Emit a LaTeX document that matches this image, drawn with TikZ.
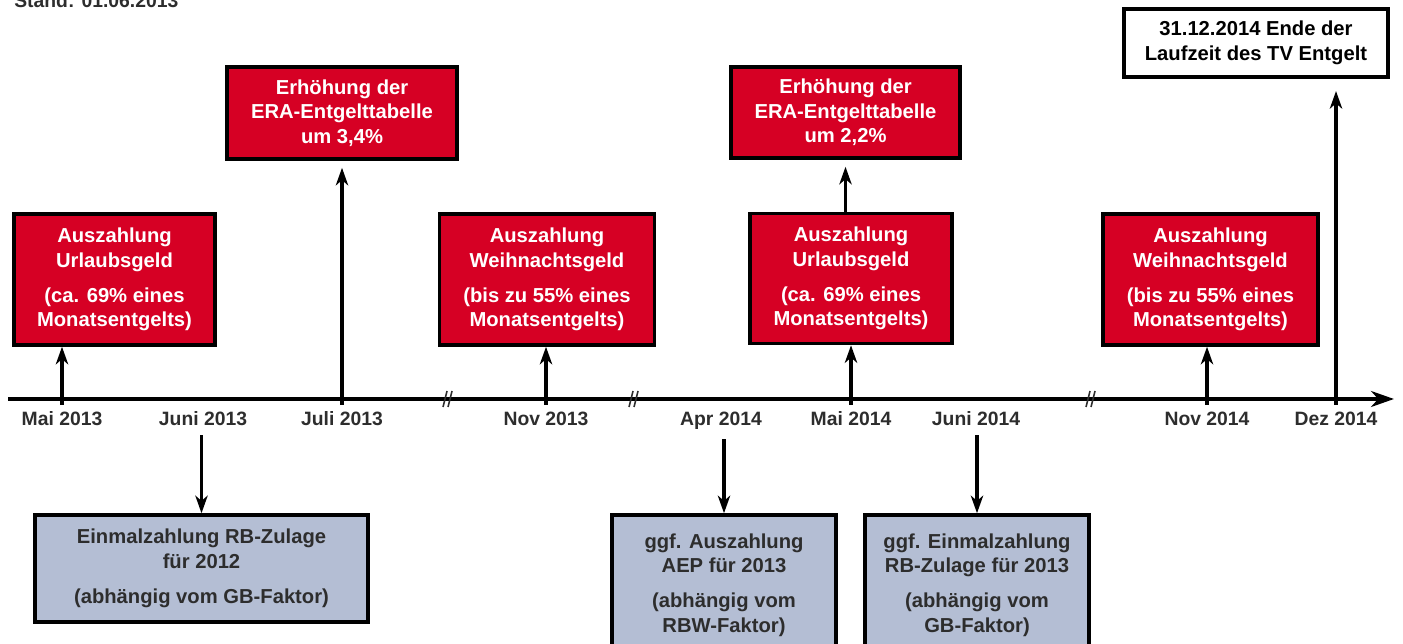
\documentclass[tikz,border=0pt]{standalone}
\usepackage{fontspec}
\setmainfont{Liberation Sans}
\usepackage{xcolor}
\usetikzlibrary{arrows, arrows.meta}

\definecolor{boxred}{RGB}{214,0,36}
\definecolor{boxblue}{RGB}{180,190,212}
\definecolor{textgray}{RGB}{45,45,45}

\tikzset{
  redbox/.style={draw=black, fill=boxred, line width=2pt, text=white,
    font=\bfseries\fontsize{11.5}{14}\selectfont, align=center, inner sep=0pt},
  bluebox/.style={draw=black, fill=boxblue, line width=2pt, text=textgray,
    font=\bfseries\fontsize{11.5}{14}\selectfont, align=center, inner sep=0pt},
  whitebox/.style={draw=black, fill=white, line width=2pt, text=black,
    font=\bfseries\fontsize{11.5}{14}\selectfont, align=center, inner sep=0pt},
  datum/.style={text=textgray, font=\bfseries\fontsize{11}{13}\selectfont, inner sep=0pt},
  pointer/.style={line width=2pt, arrows={-{Stealth[length=10pt, width=7pt, inset=3pt]}}},
}

\begin{document}
\begin{tikzpicture}[x=0.02cm, y=-0.02cm]
  \useasboundingbox (0,0) rectangle (1403,644);

  % Date stamp, cut at the top edge.
  \node[datum, anchor=base west] (stand) at (14,8) {Stand: 01.06.2013};

  % Time axis with breaks.
  \coordinate (axstart) at (8,399);
  \coordinate (axend) at (1394,399);
  \draw [line width=2.6pt, arrows={-{Stealth[length=13pt, width=9pt, inset=4pt]}}] (axstart) -- (axend);
  \foreach \x in {447, 633, 1090} {
    \draw [line width=0.9pt, textgray] (\x-4,407) -- (\x,391);
    \draw [line width=0.9pt, textgray] (\x+1,407) -- (\x+5,391);
  }

  % Months.
  \foreach \x/\n/\t in {62/mai13/Mai 2013, 203/jun13/Juni 2013, 342/jul13/Juli 2013,
      546/nov13/Nov 2013, 721/apr14/Apr 2014, 851/mai14/Mai 2014,
      976/jun14/Juni 2014, 1207/nov14/Nov 2014, 1336/dez14/Dez 2014} {
    \coordinate (t\n) at (\x,405);
    \node[datum, anchor=base] (l\n) at (\x,426) {\t};
  }

  % Events above the axis.
  \node[redbox, minimum width=201*0.02cm, minimum height=131*0.02cm] (urlaub13) at (114.5,279.5)
    {Auszahlung\\Urlaubsgeld\\[6pt](ca. 69\% eines\\Monatsentgelts)};
  \node[redbox, minimum width=230*0.02cm, minimum height=92*0.02cm] (era13) at (342,113)
    {Erhöhung der\\ERA-Entgelttabelle\\um 3,4\%};
  \node[redbox, minimum width=215*0.02cm, minimum height=131*0.02cm] (weih13) at (547,279.5)
    {Auszahlung\\Weihnachtsgeld\\[6pt](bis zu 55\% eines\\Monatsentgelts)};
  \node[redbox, minimum width=229*0.02cm, minimum height=91*0.02cm] (era14) at (845.5,112.5)
    {Erhöhung der\\ERA-Entgelttabelle\\um 2,2\%};
  \node[redbox, minimum width=202*0.02cm, minimum height=130*0.02cm] (urlaub14) at (851,278.5)
    {Auszahlung\\Urlaubsgeld\\[6pt](ca. 69\% eines\\Monatsentgelts)};
  \node[redbox, minimum width=215*0.02cm, minimum height=131*0.02cm] (weih14) at (1210.5,279.5)
    {Auszahlung\\Weihnachtsgeld\\[6pt](bis zu 55\% eines\\Monatsentgelts)};
  \node[whitebox, minimum width=264*0.02cm, minimum height=68*0.02cm] (ende) at (1256,43)
    {31.12.2014 Ende der\\Laufzeit des TV Entgelt};

  \draw [pointer] (tmai13) -- (urlaub13.south -| tmai13);
  \draw [pointer, shorten >=4pt] (tjul13) -- (era13.south -| tjul13);
  \draw [pointer] (tnov13) -- (weih13.south -| tnov13);
  \draw [pointer] (tmai14) -- (urlaub14.south -| tmai14);
  \draw [pointer, shorten >=4pt] (urlaub14.north -| era14.south) -- (era14.south);
  \draw [pointer] (tnov14) -- (weih14.south -| tnov14);
  \draw [pointer, shorten >=7pt] (tdez14) -- (ende.south -| tdez14);

  % Events below the axis.
  \node[bluebox, minimum width=333*0.02cm, minimum height=107*0.02cm] (rb12) at (201.5,568.5)
    {Einmalzahlung RB-Zulage\\für 2012\\[6pt](abhängig vom GB-Faktor)};
  \node[bluebox, minimum width=224*0.02cm, minimum height=140*0.02cm] (aep13) at (724,585)
    {ggf. Auszahlung\\AEP für 2013\\[6pt](abhängig vom\\RBW-Faktor)};
  \node[bluebox, minimum width=224*0.02cm, minimum height=140*0.02cm] (rb13) at (977,585)
    {ggf. Einmalzahlung\\RB-Zulage für 2013\\[6pt](abhängig vom\\GB-Faktor)};

  \draw [pointer, shorten <=5pt] (ljun13.south -| rb12.north) -- (rb12.north);
  \draw [pointer, shorten <=5pt] (lapr14.south -| aep13.north) -- (aep13.north);
  \draw [pointer, shorten <=5pt] (ljun14.south -| rb13.north) -- (rb13.north);
\end{tikzpicture}
\end{document}
